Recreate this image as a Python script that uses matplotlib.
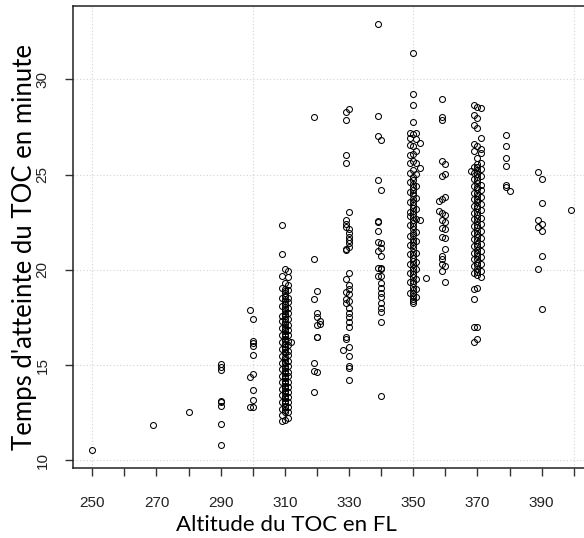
import matplotlib.pyplot as plt

# temps d'atteinte du TOC (minutes), one list per altitude (FL)
toc_250 = [10.52]
toc_269 = [11.85]
toc_280 = [12.53]
toc_290 = [15.04, 14.92, 14.76, 13.12, 13.05, 12.85, 11.9, 10.82]
toc_299 = [17.9, 14.38, 12.82]
toc_300 = [17.43, 16.28, 16.16, 15.98, 15.53, 14.53, 13.70, 13.17, 12.79]
toc_309 = [22.36, 20.85, 19.68, 19.05, 18.5, 18.12, 17.6, 17.31, 16.94, 16.58, 16.22, 15.84,
           15.47, 15.12, 14.78, 14.41, 14.09, 13.77, 13.42, 13.04, 12.71, 12.36, 12.09]
toc_310 = [20.06, 19.33, 19.02, 18.87, 18.76, 18.61, 18.45, 18.36, 18.21, 18.07, 17.93, 17.82,
           17.66, 17.57, 17.41, 17.26, 17.17, 17.01, 16.88, 16.77, 16.61, 16.52, 16.37, 16.24,
           16.12, 15.97, 15.86, 15.71, 15.62, 15.45, 15.34, 15.19, 15.09, 14.94, 14.83, 14.68,
           14.57, 14.42, 14.31, 14.16, 14.06, 13.91, 13.81, 13.65, 13.55, 13.39, 13.29, 13.14,
           13.03, 12.88, 12.78, 12.63, 12.52, 12.14]
toc_311 = [19.95, 19.61, 19.18, 18.92, 18.54, 18.31, 18.01, 17.72, 17.44, 17.13, 16.84, 16.56,
           16.29, 16.03, 15.74, 15.51, 15.21, 14.96, 14.65, 14.41, 14.11, 13.86, 13.57, 13.31,
           13.06, 12.81, 12.56, 12.2]
toc_312 = [16.19]
toc_319 = [28.0, 20.55, 18.46, 15.11, 14.71, 13.61]
toc_320 = [18.89, 17.72, 17.55, 17.1, 16.5, 16.45, 14.65]
toc_321 = [17.34, 17.15]
toc_328 = [15.81]
toc_329 = [28.31, 27.84, 26.04, 25.61, 22.61, 22.43, 22.26, 21.11, 21.04, 19.5, 18.84, 18.49,
           18.25, 16.5, 16.37]
toc_330 = [28.43, 23.03, 22.12, 21.95, 21.74, 21.56, 21.39, 21.2, 19.85, 19.19, 18.98, 18.72,
           18.37, 18.02, 17.76, 17.5, 17.24, 16.98, 15.93, 15.5, 14.97, 14.83, 14.22]
toc_339 = [32.89, 28.08, 27.04, 24.73, 22.56, 22.5, 22.03, 21.46, 20.99, 20.12, 19.68]
toc_340 = [26.83, 24.18, 21.42, 21.16, 20.73, 20.12, 20.03, 19.68, 19.33, 19.07, 18.81, 18.55,
           18.28, 18.02, 17.8, 17.27, 13.37]
toc_349 = [27.18, 26.91, 26.56, 26.04, 25.6, 25.1, 24.62, 24.08, 23.55, 23.02, 22.81, 22.33,
           21.78, 21.31, 20.85, 20.29, 19.81, 19.35, 18.81]
toc_350 = [31.39, 29.22, 28.66, 27.75, 27.14, 26.48, 26.1, 25.69, 25.22, 24.86, 24.71, 24.53,
           24.37, 24.21, 24.04, 23.91, 23.71, 23.58, 23.41, 23.24, 23.11, 22.94, 22.79, 22.63,
           22.44, 22.31, 22.13, 21.94, 21.81, 21.61, 21.46, 21.29, 21.13, 20.94, 20.79, 20.61,
           20.44, 20.31, 20.11, 19.96, 19.79, 19.63, 19.44, 19.31, 19.11, 18.96, 18.79, 18.62,
           18.46, 18.37, 18.25]
toc_351 = [27.18, 26.86, 26.22, 25.61, 25.05, 24.41, 23.79, 23.21, 22.68, 22.01, 21.52, 20.91,
           20.41, 20.03, 19.52, 19.01, 18.6]
toc_352 = [26.65, 25.35, 22.64]
toc_354 = [19.59]
toc_358 = [23.6, 23.08]
toc_359 = [28.95, 28.01, 27.84, 25.69, 24.91, 23.72, 22.99, 22.64, 22.21, 21.74, 20.73, 20.55,
           20.29, 19.94]
toc_360 = [25.57, 25.05, 23.83, 22.9, 22.5, 22.12, 21.68, 21.07, 20.2, 19.37]
toc_368 = [25.17]
toc_369 = [28.66, 28.13, 27.61, 26.62, 26.22, 25.41, 25.09, 24.76, 24.39, 24.06, 23.71, 23.34,
           23.01, 22.66, 22.29, 21.96, 21.61, 21.24, 20.91, 20.56, 20.19, 19.86, 18.98, 18.49,
           16.98, 16.2]
toc_370 = [28.54, 27.96, 27.44, 26.48, 25.87, 25.56, 25.38, 25.23, 25.04, 24.89, 24.71, 24.56,
           24.37, 24.23, 24.04, 23.89, 23.71, 23.56, 23.37, 23.23, 23.04, 22.89, 22.71, 22.56,
           22.37, 22.23, 22.04, 21.89, 21.71, 21.56, 21.37, 21.23, 21.04, 20.89, 20.71, 20.56,
           20.37, 20.23, 20.04, 19.89, 19.72, 19.07, 16.98, 16.37]
toc_371 = [28.49, 26.91, 26.34, 26.13, 25.61, 25.31, 24.94, 24.47, 24.19, 23.81, 23.44, 23.12,
           22.74, 22.41, 22.06, 21.69, 21.36, 20.98, 20.66, 20.31, 19.94, 19.61]
toc_379 = [27.09, 26.51, 25.87, 25.43, 24.47, 24.35]
toc_380 = [24.12]
toc_389 = [25.12, 22.64, 22.26, 20.03]
toc_390 = [24.77, 23.51, 22.43, 22.03, 20.72, 17.97]
toc_399 = [23.16]

niveaux = [
    (250, toc_250), (269, toc_269), (280, toc_280), (290, toc_290), (299, toc_299),
    (300, toc_300), (309, toc_309), (310, toc_310), (311, toc_311), (312, toc_312),
    (319, toc_319), (320, toc_320), (321, toc_321), (328, toc_328), (329, toc_329),
    (330, toc_330), (339, toc_339), (340, toc_340), (349, toc_349), (350, toc_350),
    (351, toc_351), (352, toc_352), (354, toc_354), (358, toc_358), (359, toc_359),
    (360, toc_360), (368, toc_368), (369, toc_369), (370, toc_370), (371, toc_371),
    (379, toc_379), (380, toc_380), (389, toc_389), (390, toc_390), (399, toc_399),
]

fl = []
temps = []
for alt, vals in niveaux:
    fl += [alt] * len(vals)
    temps += vals

fig = plt.figure(figsize=(5.84, 5.38), dpi=100)
ax = fig.add_axes([73 / 584, 70 / 538, 520 / 584, 462 / 538])

ax.plot(fl, temps, linestyle="none", marker="o", markersize=4.3,
        markerfacecolor="none", markeredgecolor="black", markeredgewidth=0.75)

ax.set_xlim(244, 406)
ax.set_ylim(9.6, 33.85)

# grid every 50 FL / 5 min, dotted light grey
for gx in [250, 300, 350, 400]:
    ax.axvline(gx, color="#d3d3d3", linestyle=(0, (1, 2)), linewidth=0.8, zorder=0)
for gy in [10, 15, 20, 25, 30]:
    ax.axhline(gy, color="#d3d3d3", linestyle=(0, (1, 2)), linewidth=0.8, zorder=0)

ax.set_xticks(range(250, 401, 10))
ax.set_xticklabels([str(v) if (v - 250) % 20 == 0 and v < 400 else "" for v in range(250, 401, 10)])
ax.set_yticks([10, 15, 20, 25, 30])
ax.set_yticklabels(["10", "15", "20", "25", "30"], rotation=90, va="center")

for lab in ax.get_xticklabels() + ax.get_yticklabels():
    lab.set_fontfamily("Liberation Sans")
    lab.set_fontsize(11)
    lab.set_color("#222222")

ax.tick_params(direction="out", length=6, width=1, color="#333333")
ax.tick_params(axis="x", pad=14)
ax.tick_params(axis="y", pad=11)
for side in ["left", "bottom", "top"]:
    ax.spines[side].set_linewidth(1.1)
    ax.spines[side].set_color("#222222")
ax.spines["right"].set_visible(False)

ax.set_xlabel("Altitude du TOC en FL", fontfamily="Lato", fontsize=16)
ax.xaxis.set_label_coords(0.41, -0.102)
ax.set_ylabel("Temps d'atteinte du TOC en minute", fontfamily="Lato", fontsize=18.5)
ax.yaxis.set_label_coords(-0.07, 0.478)

plt.savefig("out.png")
